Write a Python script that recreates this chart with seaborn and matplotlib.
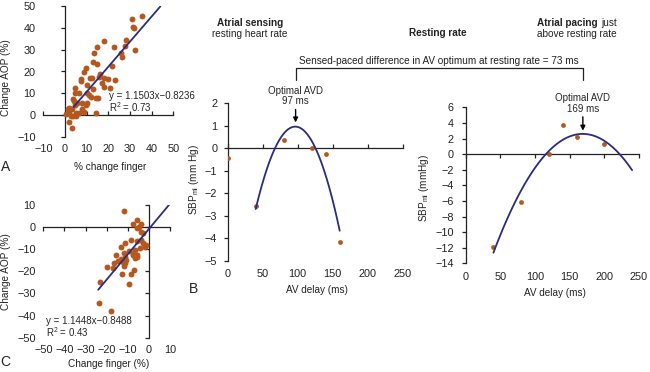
import matplotlib.pyplot as plt
from matplotlib.lines import Line2D
import seaborn as sns
import numpy as np

# Panel A: % change finger vs change AOP
a_finger = [35.6, 31.1, 31.4, 31.9, 32.5, 28.0, 27.6, 26.0, 26.5, 18.1, 14.9, 13.6,
            22.6, 12.8, 14.8, 21.7, 16.3, 15.7, 18.0, 20.0, 23.0, 11.6, 12.5, 7.6,
            7.3, 9.8, 8.9, 10.0, 16.9, 17.8, 20.6, 12.8, 4.5, 6.7, 4.8, 10.0,
            11.0, 12.2, 15.2, 14.4, 3.6, 4.2, 9.8, 10.0, 7.9, 9.0, 14.4, 3.3,
            1.7, 5.1, 2.0, 0.5, 2.8, 3.6, 5.1, 2.0, 3.1, 1.2, 6.7, 5.4, 4.5, 7.7]
a_aop = [45.2, 44.1, 40.6, 39.7, 30.0, 34.2, 31.5, 28.5, 26.7, 33.9, 31.0, 28.5,
         31.0, 24.5, 23.5, 22.4, 19.0, 17.6, 17.0, 16.7, 16.0, 17.0, 17.0, 16.7,
         15.5, 21.5, 19.7, 14.0, 14.8, 12.7, 12.6, 11.8, 12.6, 10.0, 10.0, 10.0,
         9.4, 8.5, 7.9, 7.9, 7.3, 6.7, 4.8, 5.8, 2.7, 1.5, 1.2, 2.7,
         3.5, 1.2, 1.2, 0.5, -0.6, -0.3, -0.6, -3.0, -5.8, 2.7, 1.2, 5.5, 4.5, 5.8]
a_slope, a_icpt = 1.1503, -0.8236
a_fit_range = [4, 44]

# Panel C: change finger vs change AOP
c_finger = [-11.7, -5.4, -7.4, -3.8, -4.6, -5.8, -3.5, -2.7, -1.7, -3.5, -5.4, -8.7,
            -11.4, -13.2, -4.3, -6.6, -5.8, -7.7, -7.4, -5.4, -6.6, -9.3, -11.7, -11.4,
            -13.4, -15.8, -14.5, -12.1, -10.6, -11.8, -11.4, -16.4, -16.9, -19.7, -12.9, -8.7,
            -6.9, -9.3, -23.2, -23.8, -18.1, -1.6, -2.7]
c_aop = [7.1, 3.3, 1.4, 1.5, 0.0, -0.6, -2.0, -2.7, -8.8, -5.7, -6.5, -5.7,
         -7.3, -9.2, -9.5, -10.3, -12.5, -11.8, -12.5, -13.6, -14.0, -11.0, -11.8, -13.3,
         -14.5, -12.5, -15.1, -15.6, -14.8, -17.5, -16.3, -16.3, -18.6, -18.1, -21.3, -21.3,
         -19.6, -25.7, -24.9, -34.1, -37.8, -8.0, -7.3]
c_slope, c_icpt = 1.1448, -0.8488
c_fit_range = [-24, 9.7]

# Panel B: atrial sensing, resting heart rate
b_delay = [0, 40, 80, 120, 140, 160]
b_sbp = [-0.44, -2.56, 0.37, 0.03, -0.27, -4.14]
b_opt = 97

# Panel D: atrial pacing just above resting rate
d_delay = [40, 80, 120, 140, 160, 200]
d_sbp = [-11.95, -6.14, 0.0, 3.69, 2.2, 1.34]
d_opt = 169
d_fit_range = [40, 240]

DOT = '#b5581f'
LINE = '#2b2c7c'
FS = 7          # equations / annotations
TFS = 7.8       # tick labels
LFS = 7.2       # axis labels, headers

sns.set_theme(style='white')
plt.rcParams['font.family'] = ['Liberation Sans', 'DejaVu Sans']
plt.rcParams['mathtext.fontset'] = 'custom'
plt.rcParams['mathtext.rm'] = 'Liberation Sans'
plt.rcParams['mathtext.it'] = 'Liberation Sans:italic'

W, H = 650, 372
fig = plt.figure(figsize=(W / 100, H / 100), dpi=100)


def px(x, y):
    return x / W, 1 - y / H


def box(l, t, r, b):
    return [l / W, 1 - b / H, (r - l) / W, (b - t) / H]


def zero_axes(ax, xticks, yticks, xdir, ydir, xpad, ypad):
    # tick labels sit on the frame edge, axis lines cross at zero
    for s in ax.spines.values():
        s.set_visible(False)
    ax.set_xlim(xticks[0], xticks[-1])
    ax.set_ylim(yticks[0], yticks[-1])
    ax.set_xticks(xticks)
    ax.set_yticks(yticks)
    ax.tick_params(length=0, labelsize=TFS, colors='#222222')
    ax.tick_params(axis='x', pad=xpad)
    ax.tick_params(axis='y', pad=ypad)
    sx = ax.secondary_xaxis(0, transform=ax.transData)
    sx.set_xticks(xticks)
    sx.tick_params(labelbottom=False, direction=xdir, length=3, width=0.9, color='#222222')
    sy = ax.secondary_yaxis(0, transform=ax.transData)
    sy.set_yticks(yticks)
    sy.tick_params(labelleft=False, direction=ydir, length=3, width=0.9, color='#222222')
    for sec in (sx, sy):
        for s in sec.spines.values():
            s.set_linewidth(0.9)
            s.set_color('#222222')
    ax.set_facecolor('none')


# ---- A ----
axA = fig.add_axes(box(43.3, 6, 173.3, 137))
zero_axes(axA, list(range(-10, 51, 10)), list(range(-10, 51, 10)), 'in', 'out', 5, 5.5)
sns.scatterplot(x=a_finger, y=a_aop, color=DOT, s=18, linewidth=0, ax=axA, zorder=3)
xa = np.array(a_fit_range)
sns.lineplot(x=xa, y=a_slope * xa + a_icpt, color=LINE, lw=1.3, ax=axA, zorder=4)
axA.text(20.4, 8.8, 'y = 1.1503x\u22120.8236', fontsize=FS, va='center')
axA.text(20.4, 3.8, 'R$^2$ = 0.73', fontsize=FS, va='center')

# ---- C ----
axC = fig.add_axes(box(43.3, 205, 170, 337.7))
zero_axes(axC, list(range(-50, 11, 10)), list(range(-50, 11, 10)), 'out', 'out', 5, 5.5)
sns.scatterplot(x=c_finger, y=c_aop, color=DOT, s=18, linewidth=0, ax=axC, zorder=3)
xc = np.array(c_fit_range)
sns.lineplot(x=xc, y=c_slope * xc + c_icpt, color=LINE, lw=1.3, ax=axC, zorder=4)
axC.text(-48.7, -42.3, 'y = 1.1448x\u22120.8488', fontsize=FS, va='center')
axC.text(-48.7, -47.6, 'R$^2$ = 0.43', fontsize=FS, va='center')

# ---- B ----
axB = fig.add_axes(box(227.7, 103.3, 402.7, 261))
zero_axes(axB, list(range(0, 251, 50)), list(range(-5, 3)), 'in', 'out', 5.5, 7.5)
sns.scatterplot(x=b_delay, y=b_sbp, color=DOT, s=12, linewidth=0, ax=axB, zorder=3)
# quadratic fit (point at 0 ms left out of the fit)
bx = np.array(b_delay[1:])
bcoef = np.polyfit(bx, np.array(b_sbp[1:]), 2)
bgrid = np.linspace(bx.min(), bx.max(), 100)
sns.lineplot(x=bgrid, y=np.polyval(bcoef, bgrid), color=LINE, lw=1.3, ax=axB, zorder=4)
axB.annotate('Optimal AVD\n97 ms', xy=(b_opt, 1.15), xytext=(b_opt, 1.87),
             ha='center', va='bottom', fontsize=FS, linespacing=1.05, annotation_clip=False,
             arrowprops=dict(arrowstyle='-|>', color='black', lw=1, mutation_scale=7,
                             shrinkA=0, shrinkB=0))

# ---- D ----
axD = fig.add_axes(box(465.7, 107.3, 639, 263.3))
zero_axes(axD, list(range(0, 251, 50)), list(range(-14, 7, 2)), 'out', 'out', 6, 8.5)
sns.scatterplot(x=d_delay, y=d_sbp, color=DOT, s=12, linewidth=0, ax=axD, zorder=3)
dcoef = np.polyfit(np.array(d_delay), np.array(d_sbp), 2)
dgrid = np.linspace(d_fit_range[0], d_fit_range[1], 100)
sns.lineplot(x=dgrid, y=np.polyval(dcoef, dgrid), color=LINE, lw=1.3, ax=axD, zorder=4)
axD.annotate('Optimal AVD\n169 ms', xy=(d_opt, 3.0), xytext=(d_opt, 5.2),
             ha='center', va='bottom', fontsize=FS, linespacing=1.05, annotation_clip=False,
             arrowprops=dict(arrowstyle='-|>', color='black', lw=1, mutation_scale=7,
                             shrinkA=0, shrinkB=0))

# axis labels and panel letters
lab = dict(fontsize=LFS, ha='center', va='center', color='#222222')
fig.text(*px(6, 77.5), 'Change AOP (%)', rotation=90, **lab)
fig.text(*px(110.3, 166.7), '% change finger', **lab)
fig.text(*px(6, 271.5), 'Change AOP (%)', rotation=90, **lab)
fig.text(*px(108.3, 364), 'Change finger (%)', **lab)
fig.text(*px(194.3, 180), 'SBP$_{\\mathrm{ml}}$ (mm Hg)', rotation=90, **lab)
fig.text(*px(316.7, 290), 'AV delay (ms)', **lab)
fig.text(*px(424.3, 187.8), 'SBP$_{\\mathrm{ml}}$ (mmHg)', rotation=90, **lab)
fig.text(*px(555, 293.3), 'AV delay (ms)', **lab)
letter = dict(fontsize=10, ha='center', va='center', color='#222222')
fig.text(*px(5.5, 166.7), 'A', **letter)
fig.text(*px(5.5, 362.5), 'C', **letter)
fig.text(*px(193.3, 288.7), 'B', **letter)

# column headers
fig.text(*px(250, 22.7), 'Atrial sensing', fontweight='bold', **lab)
fig.text(*px(250, 33.7), 'resting heart rate', **lab)
fig.text(*px(438.3, 33.3), 'Resting rate', fontweight='bold', **lab)
fig.text(*px(597.3, 22.7), 'Atrial pacing', fontweight='bold', fontsize=LFS,
         ha='right', va='center', color='#222222')
fig.text(*px(601, 22.7), 'just', fontsize=LFS, ha='left', va='center', color='#222222')
fig.text(*px(576.7, 33.7), 'above resting rate', **lab)

# bracket joining the two optima
to_fig = fig.transFigure.inverted()
bl = to_fig.transform(axB.transData.transform((b_opt, 0)))[0]
br = to_fig.transform(axD.transData.transform((d_opt, 0)))[0]
ytop, ybot = px(0, 67.7)[1], px(0, 80)[1]
fig.add_artist(Line2D([bl, bl, br, br], [ybot, ytop, ytop, ybot], color='#222222', lw=0.9))
fig.text((bl + br) / 2, px(0, 60.7)[1],
         'Sensed-paced difference in AV optimum at resting rate = 73 ms', **lab)

fig.savefig('out.png', dpi=100)
